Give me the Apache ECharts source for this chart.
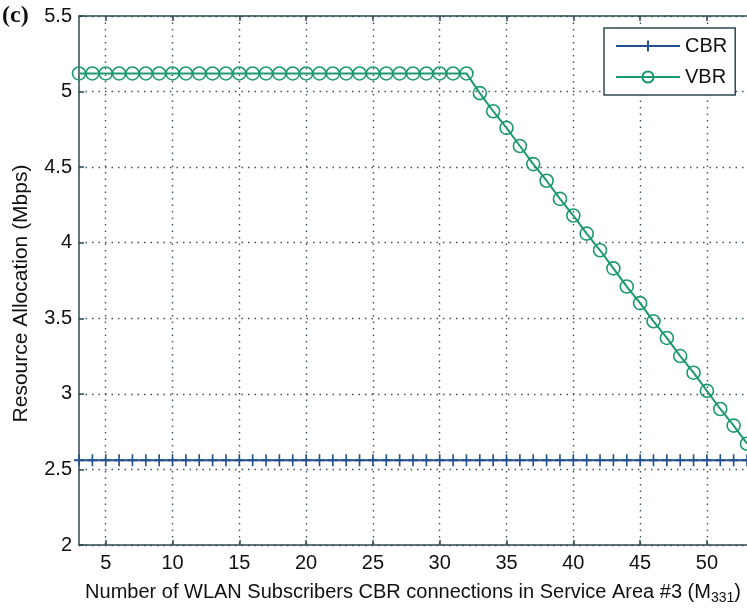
<!DOCTYPE html>
<html>
<head>
<meta charset="utf-8">
<script src="https://cdn.jsdelivr.net/npm/echarts@6/dist/echarts.min.js"></script>
<style>
  html, body { margin: 0; padding: 0; background: #fff; }
  #chart { width: 747px; height: 610px; }
</style>
</head>
<body>
<div id="chart"></div>
<script>
// Number of WLAN subscribers (CBR connections) in service area #3
const subscribers = [3, 4, 5, 6, 7, 8, 9, 10, 11, 12, 13, 14, 15, 16, 17, 18, 19, 20,
  21, 22, 23, 24, 25, 26, 27, 28, 29, 30, 31, 32, 33, 34, 35, 36, 37, 38, 39, 40,
  41, 42, 43, 44, 45, 46, 47, 48, 49, 50, 51, 52, 53];

// Resource allocation for CBR traffic (Mbps)
const cbrAlloc = [2.56, 2.56, 2.56, 2.56, 2.56, 2.56, 2.56, 2.56, 2.56, 2.56, 2.56,
  2.56, 2.56, 2.56, 2.56, 2.56, 2.56, 2.56, 2.56, 2.56, 2.56, 2.56, 2.56, 2.56,
  2.56, 2.56, 2.56, 2.56, 2.56, 2.56, 2.56, 2.56, 2.56, 2.56, 2.56, 2.56, 2.56,
  2.56, 2.56, 2.56, 2.56, 2.56, 2.56, 2.56, 2.56, 2.56, 2.56, 2.56, 2.56, 2.56, 2.56];

// Resource allocation for VBR traffic (Mbps)
const vbrAlloc = [5.12, 5.12, 5.12, 5.12, 5.12, 5.12, 5.12, 5.12, 5.12, 5.12, 5.12,
  5.12, 5.12, 5.12, 5.12, 5.12, 5.12, 5.12, 5.12, 5.12, 5.12, 5.12, 5.12, 5.12,
  5.12, 5.12, 5.12, 5.12, 5.12, 5.12, 4.99, 4.87, 4.76, 4.64, 4.52, 4.41, 4.29,
  4.18, 4.06, 3.95, 3.83, 3.71, 3.60, 3.48, 3.37, 3.25, 3.14, 3.02, 2.90, 2.79, 2.67];

// Tick positions
const xTicks = [5, 10, 15, 20, 25, 30, 35, 40, 45, 50];

const AXIS = '#2e4a52';
const GRID = '#3d5159';
const CBR_COLOR = '#23508e';
const VBR_COLOR = '#1c9a6c';
const FONT = '"Liberation Sans", Arial, sans-serif';

const chart = echarts.init(document.getElementById('chart'), null, { renderer: 'canvas' });

const plusPath = 'path://M0,-5L0,5M-5,0L5,0';

chart.setOption({
  animation: false,
  backgroundColor: '#fff',
  textStyle: { fontFamily: FONT },
  grid: { left: 79, top: 16, width: 670, height: 529, containLabel: false },
  graphic: [{
    type: 'text', left: 2, top: 4,
    style: { text: '(c)', font: 'bold 24px "Liberation Serif", "Times New Roman", serif', fill: '#111' }
  }],
  legend: {
    orient: 'vertical',
    left: 604, top: 28,
    padding: [8, 8, 8, 11],
    itemGap: 11,
    itemWidth: 64,
    itemHeight: 14,
    backgroundColor: '#fff',
    borderColor: AXIS,
    borderWidth: 1.5,
    borderRadius: 0,
    textStyle: { fontFamily: FONT, fontSize: 20, color: '#111' },
    data: ['CBR', 'VBR']
  },
  xAxis: [{
    type: 'value',
    min: 3, max: 53,
    position: 'bottom',
    name: 'Number of WLAN Subscribers CBR connections in Service Area #3 (M{sub|331})',
    nameLocation: 'middle',
    nameGap: 34,
    nameTextStyle: {
      fontFamily: FONT, fontSize: 20, color: '#111',
      rich: { sub: { fontFamily: FONT, fontSize: 14, color: '#111', verticalAlign: 'bottom', padding: [12, 0, 0, 0] } }
    },
    axisLine: { show: true, onZero: false, lineStyle: { color: AXIS, width: 1.5 } },
    axisTick: { show: true, inside: true, length: 5, customValues: xTicks, lineStyle: { color: AXIS, width: 1.5 } },
    axisLabel: { show: true, fontSize: 20, color: '#111', margin: 8, customValues: xTicks, fontFamily: FONT },
    splitLine: { show: true, lineStyle: { color: GRID, width: 1.4, type: [1.5, 5] } }
  }, {
    type: 'value',
    min: 3, max: 53,
    position: 'top',
    axisLine: { show: true, onZero: false, lineStyle: { color: AXIS, width: 1.5 } },
    axisTick: { show: true, inside: true, length: 5, customValues: xTicks, lineStyle: { color: AXIS, width: 1.5 } },
    axisLabel: { show: false },
    splitLine: { show: false }
  }],
  yAxis: {
    type: 'value',
    min: 2, max: 5.5, interval: 0.5,
    name: 'Resource Allocation (Mbps)',
    nameLocation: 'middle',
    nameGap: 47,
    nameTextStyle: { fontFamily: FONT, fontSize: 21, color: '#111', padding: [0, 26, 0, 0] },
    axisLine: { show: true, onZero: false, lineStyle: { color: AXIS, width: 1.5 } },
    axisTick: { show: true, inside: true, length: 5, lineStyle: { color: AXIS, width: 1.5 } },
    axisLabel: { fontSize: 20, color: '#111', margin: 7, fontFamily: FONT },
    splitLine: { show: true, lineStyle: { color: GRID, width: 1.4, type: [1.5, 5] } }
  },
  series: [{
    name: 'CBR',
    type: 'line',
    data: subscribers.map((x, i) => [x, cbrAlloc[i]]),
    symbol: plusPath,
    symbolSize: [10, 12],
    showAllSymbol: true,
    lineStyle: { color: CBR_COLOR, width: 2 },
    itemStyle: { color: 'rgba(0,0,0,0)', borderColor: CBR_COLOR, borderWidth: 1.8 },
    z: 3
  }, {
    name: 'VBR',
    type: 'line',
    data: subscribers.map((x, i) => [x, vbrAlloc[i]]),
    symbol: 'circle',
    symbolSize: 13,
    showAllSymbol: true,
    lineStyle: { color: VBR_COLOR, width: 2 },
    itemStyle: { color: 'rgba(0,0,0,0)', borderColor: VBR_COLOR, borderWidth: 1.6 },
    z: 3
  }]
});
</script>
</body>
</html>
